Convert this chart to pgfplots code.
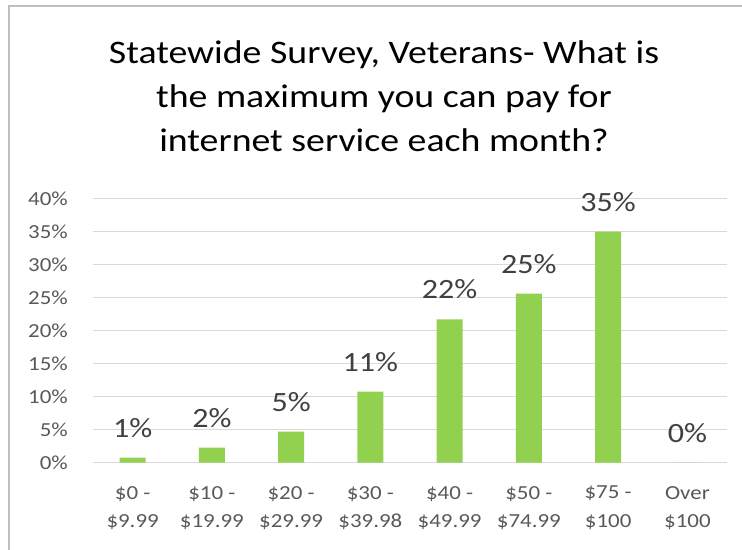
\documentclass[border=0pt]{standalone}
\usepackage{fontspec}
\setmainfont{Carlito}[FakeStretch=1.15]
\usepackage{pgfplots}
\pgfplotsset{compat=1.18}
\definecolor{bargreen}{HTML}{92D050}
\definecolor{gridgray}{HTML}{D9D9D9}
\definecolor{tickgray}{HTML}{595959}
\definecolor{labgray}{HTML}{404040}
\definecolor{framegray}{HTML}{BFBFBF}
\begin{document}
\begin{tikzpicture}
\path[use as bounding box] (0,0) rectangle (742bp,550bp);
\draw[framegray, line width=2bp] (9bp,-2bp) -- (9bp,544bp) -- (745bp,544bp);
\node[anchor=base, inner sep=0pt, font=\fontsize{33}{40}\selectfont] at (384bp,486.7bp) {Statewide Survey, Veterans- What is};
\node[anchor=base, inner sep=0pt, font=\fontsize{33}{40}\selectfont] at (384bp,442.2bp) {the maximum you can pay for};
\node[anchor=base, inner sep=0pt, font=\fontsize{33}{40}\selectfont] at (384bp,398.3bp) {internet service each month?};
\begin{axis}[
  at={(93bp,87.3bp)}, anchor=south west,
  width=634bp, height=264.4bp, scale only axis,
  xmin=-0.5, xmax=7.5, ymin=0, ymax=40,
  ytick={0,5,...,40},
  yticklabel={\pgfmathprintnumber{\tick}\%},
  /pgf/number format/assume math mode=true,
  xtick={0,...,7},
  xticklabels={{\$0 -\\\$9.99},{\$10 -\\\$19.99},{\$20 -\\\$29.99},{\$30 -\\\$39.98},{\$40 -\\\$49.99},{\$50 -\\\$74.99},{\$75 -\\\$100},{Over\\\$100}},
  x tick label style={align=center, font=\fontsize{20}{28.7}\selectfont, text=tickgray, inner sep=0pt, anchor=north},
  xticklabel shift=19bp,
  y tick label style={font=\fontsize{20}{24}\selectfont, text=tickgray, inner sep=0pt, anchor=east},
  yticklabel shift=25bp,
  axis line style={draw=none},
  tick style={draw=none},
  ymajorgrids,
  major grid style={gridgray, line width=1.3bp},
  ybar, bar width=26bp,
  nodes near coords,
  point meta=explicit symbolic,
  every node near coord/.append style={font=\fontsize{28}{34}\selectfont, text=labgray, inner sep=0pt, anchor=south, yshift=20bp},
  clip=false,
]
\addplot[fill=bargreen, draw=none] coordinates {
  (0,0.76) [1\%]
  (1,2.27) [2\%]
  (2,4.69) [5\%]
  (3,10.74) [11\%]
  (4,21.7) [22\%]
  (5,25.57) [25\%]
  (6,34.95) [35\%]
  (7,0) [0\%]
};
\end{axis}
\end{tikzpicture}
\end{document}
